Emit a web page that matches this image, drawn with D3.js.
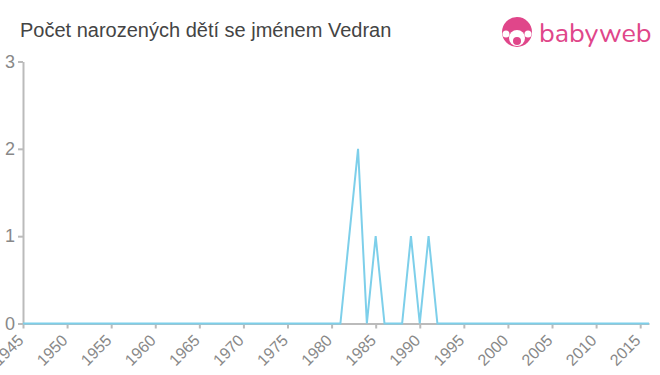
<!DOCTYPE html>
<html>
<head>
<meta charset="utf-8">
<script src="https://cdn.jsdelivr.net/npm/d3@7"></script>
<style>
  body { margin: 0; background: #fff; }
  svg { display: block; font-family: "Liberation Sans", Arial, sans-serif; }
</style>
</head>
<body>
<script>
// vertices of the line
var years = [1945, 1981, 1983, 1984, 1985, 1986, 1988, 1989, 1990, 1991, 1992, 2016];
var counts = [0, 0, 2, 0, 1, 0, 0, 1, 0, 1, 0, 0];
var xTicks = d3.range(1945, 2016, 5);
var yTicks = [0, 1, 2, 3];

var W = 660, H = 375;
var svg = d3.select("body").append("svg")
    .attr("width", W)
    .attr("height", H);

var x = d3.scaleLinear().domain([1945, 2016]).range([23, 649]);
var y = d3.scaleLinear().domain([0, 3]).range([323.5, 61.5]);

// title
svg.append("text")
    .attr("x", 20)
    .attr("y", 37)
    .attr("font-size", 20)
    .attr("fill", "#444")
    .text("Počet narozených dětí se jménem Vedran");

// logo
var logo = svg.append("g").attr("transform", "translate(517,32)");
logo.append("circle").attr("r", 15).attr("fill", "#e0468a");
logo.append("circle").attr("cx", 0).attr("cy", 6).attr("r", 8).attr("fill", "#fff");
logo.append("circle").attr("cx", -11).attr("cy", 2).attr("r", 3.5).attr("fill", "#fff");
logo.append("circle").attr("cx", 11).attr("cy", 2).attr("r", 3.5).attr("fill", "#fff");
logo.append("circle").attr("cx", 0).attr("cy", 9).attr("r", 4).attr("fill", "#e0468a");
svg.append("text")
    .attr("x", 539)
    .attr("y", 42)
    .attr("font-size", 27)
    .attr("font-family", "Nunito, 'Noto Sans', sans-serif")
    .attr("fill", "#e0468a")
    .text("babyweb");

// axes
var xAxis = svg.append("g")
    .attr("transform", "translate(0," + y(0) + ")")
    .call(d3.axisBottom(x).tickValues(xTicks).tickFormat(d3.format("d")).tickSize(5).tickSizeOuter(0));
xAxis.selectAll("text")
    .attr("font-size", 16)
    .attr("fill", "#888")
    .attr("text-anchor", "end")
    .attr("x", 0)
    .attr("y", 0)
    .attr("dy", "0.35em")
    .attr("transform", "translate(-3,14) rotate(-45)");

var yAxis = svg.append("g")
    .attr("transform", "translate(" + x(1945) + ",0)")
    .call(d3.axisLeft(y).tickValues(yTicks).tickFormat(d3.format("d")).tickSize(5).tickSizeOuter(0));
yAxis.selectAll("text")
    .attr("font-size", 18)
    .attr("fill", "#888");

svg.selectAll(".domain, .tick line")
    .attr("stroke", "#bbb")
    .attr("stroke-width", 2);

// series
var line = d3.line()
    .x(function(d, i){ return x(years[i]); })
    .y(function(d){ return y(d); });

svg.append("path")
    .datum(counts)
    .attr("d", line)
    .attr("fill", "none")
    .attr("stroke", "#7dcfea")
    .attr("stroke-width", 2);
</script>
</body>
</html>
